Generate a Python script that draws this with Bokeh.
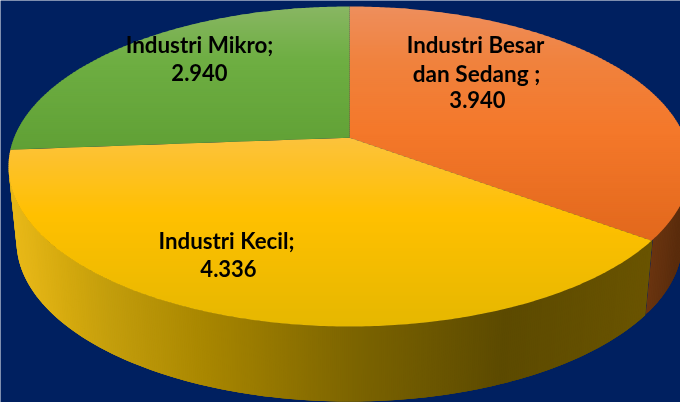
import numpy as np
from bokeh.plotting import figure, ColumnDataSource
from bokeh.models import Range1d
from bokeh.core.properties import value
from bokeh.embed import file_html
from bokeh.resources import INLINE

categories = ["Industri Besar dan Sedang", "Industri Kecil", "Industri Mikro"]
values = [3940, 4336, 2940]
label_lines = [["Industri Besar", "dan Sedang ;", "3.940"], ["Industri Kecil;", "4.336"], ["Industri Mikro;", "2.940"]]
label_x = [[475, 476, 477], [226, 228], [199, 199]]
label_y = [[44, 73, 99], [240, 268], [44, 72]]
label_size = [["22.3px", "22.6px", "22px"], ["22.3px", "22px"], ["22.4px", "22px"]]
top_stops = [
    [(7, "#EE8E5C"), (60, "#F0823E"), (130, "#F4782A"), (240, "#E2681C")],
    [(135, "#FCC23E"), (215, "#FFC000"), (327, "#E5B700")],
    [(7, "#88B662"), (60, "#6EAE42"), (150, "#60A035")],
]
side_stops = [
    [(645, "#6E3610"), (680, "#5A2C0C")],
    [(8, "#E8B818"), (60, "#D4A90E"), (100, "#C49E0C"), (200, "#A88600"), (349, "#7C6400"), (500, "#5C4A00"), (650, "#6A5400")],
]
BG = "#002060"

CX, CY, RX, RY = 349, 166, 341, 160
BX, BY = 333, 241
APEX_SHIFT = -0.18


def project(theta):
    """Circle angle (clockwise from top) to unit coordinates on the tilted ellipse."""
    X, Y = np.sin(theta), -np.cos(theta)
    d = 1 + APEX_SHIFT * Y
    return X * np.sqrt(1 - APEX_SHIFT ** 2) / d, (Y + APEX_SHIFT) / d


def hex_rgb(h):
    return np.array([int(h[i:i + 2], 16) for i in (1, 3, 5)], float)


def ramp(stops, t):
    pos = [s[0] for s in stops]
    rgb = np.array([hex_rgb(s[1]) for s in stops])
    c = [np.interp(t, pos, rgb[:, i]) for i in range(3)]
    return "#%02x%02x%02x" % tuple(int(round(v)) for v in c)


def clip(poly, y, keep_below):
    out = []
    n = len(poly)
    inside = (lambda p: p[1] >= y) if keep_below else (lambda p: p[1] <= y)
    for i in range(n):
        a, b = poly[i], poly[(i + 1) % n]
        if inside(a):
            out.append(a)
        if inside(a) != inside(b):
            s = (y - a[1]) / (b[1] - a[1])
            out.append((a[0] + s * (b[0] - a[0]), y))
    return out


cum = np.cumsum([0] + values) / sum(values) * 2 * np.pi
apex_y = CY + APEX_SHIFT * RY

p = figure(width=680, height=402, output_backend="svg", toolbar_location=None,
           x_range=Range1d(0, 680), y_range=Range1d(402, 0), min_border=0,
           background_fill_color=BG, border_fill_color=BG, outline_line_color=None)
p.axis.visible = False
p.grid.visible = False
p.styles = {"position": "fixed", "left": "0px", "top": "0px"}

# Side wall: the front half of the rim, as overlapping strips about 2px wide
u_split, v_split = project(cum[1])
phi_split = np.arctan2(v_split, u_split)  # screen angle of the orange/yellow edge
phis = [0.0]
while phis[-1] < np.pi:
    phis.append(phis[-1] + min(0.02, 2.0 / (RX * max(np.sin(phis[-1]), 0.01))))
phis[-1] = np.pi
phis = np.array(phis)
order = sorted(range(1, len(phis)), key=lambda k: phis[k] > phi_split)
strips = [k for k in range(len(phis) - 1, 0, -1) if phis[k] <= phi_split]
strips += [k for k in range(1, len(phis)) if phis[k] > phi_split]
xs, ys, cs = [], [], []
for k in strips:
    a, b = phis[k], phis[max(k - 3, 0)]
    if a > phi_split:
        stops = side_stops[1]
        b = max(b, phi_split - 0.004)
    else:
        stops = side_stops[0]
    ua, va, ub, vb = np.cos(a), np.sin(a), np.cos(b), np.sin(b)
    xs.append([CX + RX * ua, CX + RX * ub, CX + BX * ub, CX + BX * ua])
    ys.append([CY + RY * va, CY + RY * vb, BY + RY * vb, BY + RY * va])
    cs.append(ramp(stops, CX + RX * ua))
p.patches(xs, ys, fill_color=cs, line_color=None)

# Top face: sectors cut into horizontal bands for the vertical gradient
for i in range(3):
    th = np.linspace(cum[i], cum[i + 1], 240)
    u, v = project(th)
    poly = [(CX, apex_y)] + list(zip(CX + RX * u, CY + RY * v))
    y_min, y_max = min(q[1] for q in poly), max(q[1] for q in poly)
    xs, ys, cs = [], [], []
    for y in np.arange(np.floor(y_min), y_max, 2.0):
        band = clip(clip(poly, y, True), y + 2.6, False)
        if len(band) >= 3:
            xs.append([q[0] for q in band])
            ys.append([q[1] for q in band])
            cs.append(ramp(top_stops[i], y + 1))
    p.patches(xs, ys, fill_color=cs, line_color=None)

for lines, lx, ly, sz in zip(label_lines, label_x, label_y, label_size):
    src = ColumnDataSource(dict(x=lx, y=ly, t=lines, s=sz))
    p.text("x", "y", text="t", source=src, text_font=value("Lato"), text_font_style="bold",
           text_font_size="s", text_color="#000000", text_align="center", text_baseline="middle")

open("out.html", "w").write(file_html(p, INLINE))
